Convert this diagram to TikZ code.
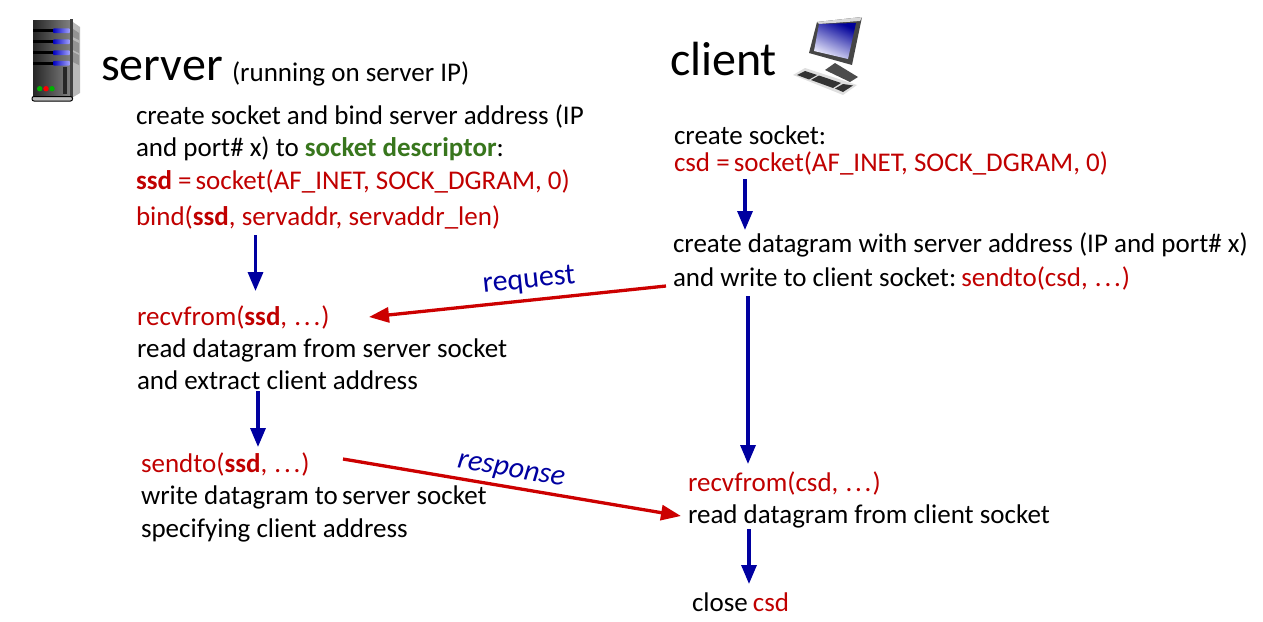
\documentclass[tikz,border=0pt]{standalone}
\usepackage{fontspec}
\setmainfont{Carlito}
\usetikzlibrary{arrows.meta}
\definecolor{cred}{RGB}{192,0,0}
\definecolor{ared}{RGB}{204,0,0}
\definecolor{cblue}{RGB}{0,0,160}
\definecolor{cgreen}{RGB}{56,118,29}
\newcommand{\rd}[1]{\textcolor{cred}{#1}}
\newcommand{\elp}{\kern1pt.\kern2.8pt.\kern2.8pt.\kern1pt}
\tikzset{
  txt/.style={anchor=base west,inner sep=0pt,outer sep=0pt,font=\fontsize{27}{27}\selectfont},
  head/.style={anchor=base west,inner sep=0pt,outer sep=0pt,font=\fontsize{48}{48}\selectfont},
  lbl/.style={inner sep=0pt,outer sep=0pt,text=cblue,font=\fontsize{30}{30}\selectfont},
  flow/.style={draw=cblue,line width=3.3pt,-{Triangle[length=19pt,width=15pt]}},
  msg/.style={draw=ared,line width=3.3pt,-{Triangle[length=20pt,width=15pt]}}
}
\begin{document}
\begin{tikzpicture}[x=1pt,y=-1pt]
\useasboundingbox (0,0) rectangle (1263,621);
% server icon
\fill[gray!55] (70,20) -- (80,27) -- (80,93) -- (70,99) -- cycle;
\fill[gray!85] (73,29) -- (79,33) -- (79,40) -- (73,37) -- cycle;
\fill[gray!85] (73,40) -- (79,43) -- (79,53) -- (73,50) -- cycle;
\fill[gray!85] (73,52) -- (79,55) -- (79,65) -- (73,62) -- cycle;
\shade[left color=black!85,right color=black!50] (33,20) rectangle (70,97);
\foreach \yy in {30.7,41.7,52.7,63.3}{
  \fill[black] (33,\yy-1.3) rectangle (54,\yy+1.3);
  \shade[left color=blue!75!black,right color=blue!35!white,rounded corners=1pt] (53,\yy-2.4) rectangle (70,\yy+2.4);
}
\fill[black!85] (63,67) rectangle (67,94);
\fill[green!70!black] (39.7,88.7) circle (2.7pt);
\fill[red] (46,88.7) circle (2.7pt);
\fill[green!70!black] (52,88.7) circle (2.7pt);
\fill[black!75] (69.5,19) rectangle (73,99);
\draw[black,line width=1pt,fill=gray!55,rounded corners=2pt] (32,96.5) rectangle (72.5,101);
% client icon
\fill[black!70] (825,70) -- (835,63) -- (858,77) -- (850,82) -- cycle;
\fill[gray!55!black] (817,22) -- (862,17) -- (852,65) -- (809,53) -- cycle;
\fill[gray!30] (817,22) -- (862,17) -- (860,21) -- (819,24) -- cycle;
\shade[top color=blue!60!black,bottom color=blue!5!white,shading angle=-25] (819,24) -- (856,23) -- (848,59) -- (814,51) -- cycle;
\fill[gray!25] (793,75) -- (805,68) -- (857,85) -- (843,95) -- cycle;
\fill[black!80] (797,75) -- (805,71) -- (817,75) -- (809,79.5) -- cycle;
\fill[black!80] (811,80) -- (819,75.5) -- (841,83) -- (833,88) -- cycle;
\fill[black!80] (835,88.5) -- (843,84) -- (853,85.5) -- (843,92) -- cycle;
% texts
\node[head] (serverhead) at (101,80) {server};
\node[txt] (serverip) at (232,81) {(running on server IP)};
\node[head] (clienthead) at (670,75) {client};
\node[txt] (s1) at (136,124) {create socket and bind server address (IP};
\node[txt] (s2) at (136,156) {and port\# x) to \textcolor{cgreen}{\textbf{socket descriptor}}:};
\node[txt,text=cred] (s3) at (136,189) {\textbf{ssd} =\kern-2pt{} socket(AF\_INET, SOCK\_DGRAM, 0)};
\node[txt,text=cred] (s4) at (136,225) {bind(\textbf{ssd}, servaddr, servaddr\_len)};
\node[txt,text=cred] (s5) at (137,325) {recvfrom(\textbf{ssd}, \elp)};
\node[txt] (s6) at (137,357) {read datagram from server socket};
\node[txt] (s7) at (137,389) {and extract client address};
\node[txt,text=cred] (s8) at (141,472) {sendto(\textbf{ssd}, \elp)};
\node[txt] (s9) at (141,504) {write datagram to\kern-2pt{} server socket};
\node[txt] (s10) at (141,537) {specifying client address};
\node[txt] (c1) at (674,144) {create socket:};
\node[txt,text=cred] (c2) at (674,171) {csd =\kern-2pt{} socket(AF\_INET, SOCK\_DGRAM, 0)};
\node[txt] (c3) at (673,252) {create datagram with server address (IP and port\# x)};
\node[txt] (c4) at (673,286) {and write to client socket:\kern-3pt{} \rd{sendto(csd, \elp)}};
\node[txt,text=cred] (c5) at (688,491) {recvfrom(csd, \elp)};
\node[txt] (c6) at (688,523) {read datagram from client socket};
\node[txt] (c7) at (692,611) {close\kern-1pt{} \rd{csd}};
\node[lbl,rotate=6] (request) at (529,281) {request};
\node[lbl,rotate=-10,font=\fontsize{30}{30}\selectfont\itshape] (response) at (511,472) {response};
% connector ends
\coordinate (a1) at (255.5,235); \coordinate (a2) at (255.5,291);
\coordinate (a3) at (258,391); \coordinate (a4) at (258,447);
\coordinate (a5) at (745,179); \coordinate (a6) at (745,230);
\coordinate (a7) at (748,296); \coordinate (a8) at (748,464);
\coordinate (a9) at (749,529); \coordinate (a10) at (749,584);
\coordinate (m1) at (666,286); \coordinate (m2) at (369,317);
\coordinate (m3) at (343,459); \coordinate (m4) at (681,516);
\draw[flow] (a1) -- (a2);
\draw[flow] (a3) -- (a4);
\draw[flow] (a5) -- (a6);
\draw[flow] (a7) -- (a8);
\draw[flow] (a9) -- (a10);
\draw[msg] (m1) -- (m2);
\draw[msg] (m3) -- (m4);
\end{tikzpicture}
\end{document}
